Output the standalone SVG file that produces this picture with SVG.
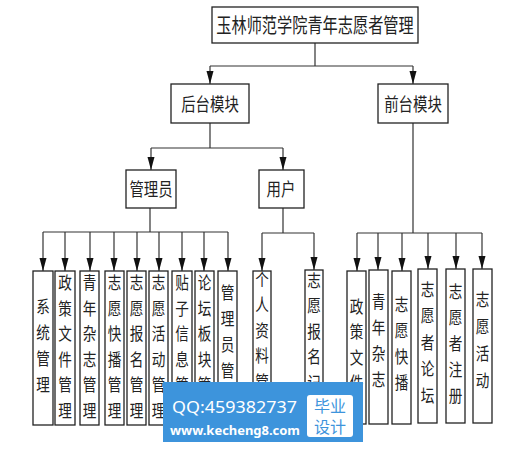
<svg xmlns="http://www.w3.org/2000/svg" width="527" height="449" viewBox="0 0 527 449">
<style>
.bg{fill:#fff}
.box{fill:#fff;stroke:#222;stroke-width:1.3}
.ln{fill:none;stroke:#333;stroke-width:1.2}
.t{font-family:"Noto Sans CJK SC","Noto Sans",sans-serif;fill:#222;text-anchor:middle}
.t17{font-size:17px}
.t18{font-size:18px}
.t20{font-size:20px}
.wm{fill:#3d94dc}
.wt{font-family:"Noto Sans","Noto Sans CJK SC",sans-serif;fill:#fff}
.wb{font-family:"Noto Sans CJK SC",sans-serif;fill:#3d94dc;font-size:16px;text-anchor:middle}
</style>
<defs>
<marker id="arr" markerUnits="userSpaceOnUse" markerWidth="13" markerHeight="8" viewBox="0 -4 13 8" refX="13" refY="0" orient="auto">
<path d="M0,-3.5 L13,0 L0,3.5 z" fill="#111"/>
</marker>
</defs>
<rect class="bg" x="0" y="0" width="527" height="449"/>

<g id="connectors">
<path class="ln" d="M315,43 V66 M210,66 H413"/>
<path class="ln" d="M210,66 V84" marker-end="url(#arr)"/>
<path class="ln" d="M413,66 V84" marker-end="url(#arr)"/>
<path class="ln" d="M210,123 V148 M151,148 H283"/>
<path class="ln" d="M151,148 V170" marker-end="url(#arr)"/>
<path class="ln" d="M283,148 V170" marker-end="url(#arr)"/>
<path class="ln" d="M150,208 V232 M43,232 H228"/>
<path class="ln" d="M43,232 V271" marker-end="url(#arr)"/>
<path class="ln" d="M65,232 V271" marker-end="url(#arr)"/>
<path class="ln" d="M90,232 V271" marker-end="url(#arr)"/>
<path class="ln" d="M114,232 V271" marker-end="url(#arr)"/>
<path class="ln" d="M137,232 V271" marker-end="url(#arr)"/>
<path class="ln" d="M159,232 V271" marker-end="url(#arr)"/>
<path class="ln" d="M182,232 V271" marker-end="url(#arr)"/>
<path class="ln" d="M204,232 V271" marker-end="url(#arr)"/>
<path class="ln" d="M228,232 V271" marker-end="url(#arr)"/>
<path class="ln" d="M283,208 V233 M262,233 H314"/>
<path class="ln" d="M262,233 V271" marker-end="url(#arr)"/>
<path class="ln" d="M314,233 V270" marker-end="url(#arr)"/>
<path class="ln" d="M413,123 V233 M357,233 H482"/>
<path class="ln" d="M357,233 V271" marker-end="url(#arr)"/>
<path class="ln" d="M378,233 V270" marker-end="url(#arr)"/>
<path class="ln" d="M402,233 V271" marker-end="url(#arr)"/>
<path class="ln" d="M428,233 V269" marker-end="url(#arr)"/>
<path class="ln" d="M456,233 V269" marker-end="url(#arr)"/>
<path class="ln" d="M482,233 V269" marker-end="url(#arr)"/>
</g>

<g id="root">
<rect class="box" x="212" y="7" width="206" height="36"/>
<g transform="translate(315,0) scale(0.76,1)"><text class="t t20" x="0" y="33">玉林师范学院青年志愿者管理</text></g>
</g>
<g id="backend">
<rect class="box" x="171" y="84" width="78" height="39"/>
<g transform="translate(210,0) scale(0.8,1)"><text class="t t18" x="0" y="111">后台模块</text></g>
</g>
<g id="frontend">
<rect class="box" x="378" y="84" width="70" height="39"/>
<g transform="translate(413,0) scale(0.8,1)"><text class="t t18" x="0" y="111">前台模块</text></g>
</g>
<g id="admin">
<rect class="box" x="126" y="170" width="50" height="38"/>
<g transform="translate(151,0) scale(0.8,1)"><text class="t t18" x="0" y="196">管理员</text></g>
</g>
<g id="user">
<rect class="box" x="259" y="170" width="45" height="38"/>
<g transform="translate(281,0) scale(0.8,1)"><text class="t t18" x="0" y="196">用户</text></g>
</g>

<g id="b1"><rect class="box" x="33" y="271" width="20" height="154"/>
<g transform="translate(43,0) scale(0.8,1)"><text class="t t17"><tspan x="0" y="313">系</tspan><tspan x="0" dy="26">统</tspan><tspan x="0" dy="26">管</tspan><tspan x="0" dy="26">理</tspan></text></g></g>
<g id="b2"><rect class="box" x="55" y="271" width="20" height="154"/>
<g transform="translate(65,0) scale(0.8,1)"><text class="t t17"><tspan x="0" y="289.5">政</tspan><tspan x="0" dy="25.5">策</tspan><tspan x="0" dy="25.5">文</tspan><tspan x="0" dy="25.5">件</tspan><tspan x="0" dy="25.5">管</tspan><tspan x="0" dy="25.5">理</tspan></text></g></g>
<g id="b3"><rect class="box" x="80" y="271" width="19" height="154"/>
<g transform="translate(89.5,0) scale(0.8,1)"><text class="t t17"><tspan x="0" y="289.5">青</tspan><tspan x="0" dy="25.5">年</tspan><tspan x="0" dy="25.5">杂</tspan><tspan x="0" dy="25.5">志</tspan><tspan x="0" dy="25.5">管</tspan><tspan x="0" dy="25.5">理</tspan></text></g></g>
<g id="b4"><rect class="box" x="105" y="271" width="19" height="154"/>
<g transform="translate(114.5,0) scale(0.8,1)"><text class="t t17"><tspan x="0" y="289.5">志</tspan><tspan x="0" dy="25.5">愿</tspan><tspan x="0" dy="25.5">快</tspan><tspan x="0" dy="25.5">播</tspan><tspan x="0" dy="25.5">管</tspan><tspan x="0" dy="25.5">理</tspan></text></g></g>
<g id="b5"><rect class="box" x="127" y="271" width="19" height="154"/>
<g transform="translate(136.5,0) scale(0.8,1)"><text class="t t17"><tspan x="0" y="289.5">志</tspan><tspan x="0" dy="25.5">愿</tspan><tspan x="0" dy="25.5">报</tspan><tspan x="0" dy="25.5">名</tspan><tspan x="0" dy="25.5">管</tspan><tspan x="0" dy="25.5">理</tspan></text></g></g>
<g id="b6"><rect class="box" x="149" y="271" width="19" height="154"/>
<g transform="translate(158.5,0) scale(0.8,1)"><text class="t t17"><tspan x="0" y="289.5">志</tspan><tspan x="0" dy="25.5">愿</tspan><tspan x="0" dy="25.5">活</tspan><tspan x="0" dy="25.5">动</tspan><tspan x="0" dy="25.5">管</tspan><tspan x="0" dy="25.5">理</tspan></text></g></g>
<g id="b7"><rect class="box" x="172" y="271" width="20" height="154"/>
<g transform="translate(182,0) scale(0.8,1)"><text class="t t17"><tspan x="0" y="289.5">贴</tspan><tspan x="0" dy="25.5">子</tspan><tspan x="0" dy="25.5">信</tspan><tspan x="0" dy="25.5">息</tspan><tspan x="0" dy="25.5">管</tspan></text></g></g>
<g id="b8"><rect class="box" x="195" y="271" width="19" height="154"/>
<g transform="translate(204.5,0) scale(0.8,1)"><text class="t t17"><tspan x="0" y="289.5">论</tspan><tspan x="0" dy="25.5">坛</tspan><tspan x="0" dy="25.5">板</tspan><tspan x="0" dy="25.5">块</tspan><tspan x="0" dy="25.5">管</tspan></text></g></g>
<g id="b9"><rect class="box" x="218" y="271" width="19" height="154"/>
<g transform="translate(227.5,0) scale(0.8,1)"><text class="t t17"><tspan x="0" y="299">管</tspan><tspan x="0" dy="26">理</tspan><tspan x="0" dy="26">员</tspan><tspan x="0" dy="26">管</tspan></text></g></g>

<g id="u1"><rect class="box" x="253" y="271" width="18" height="154"/>
<g transform="translate(262,0) scale(0.8,1)"><text class="t t17"><tspan x="0" y="286">个</tspan><tspan x="0" dy="25.5">人</tspan><tspan x="0" dy="25.5">资</tspan><tspan x="0" dy="25.5">料</tspan><tspan x="0" dy="25.5">管</tspan></text></g></g>
<g id="u2"><rect class="box" x="305" y="270" width="18" height="155"/>
<g transform="translate(314,0) scale(0.8,1)"><text class="t t17"><tspan x="0" y="287">志</tspan><tspan x="0" dy="25.5">愿</tspan><tspan x="0" dy="25.5">报</tspan><tspan x="0" dy="25.5">名</tspan><tspan x="0" dy="25.5">记</tspan></text></g></g>

<g id="f1"><rect class="box" x="347" y="271" width="19" height="153"/>
<g transform="translate(356.5,0) scale(0.8,1)"><text class="t t17"><tspan x="0" y="313">政</tspan><tspan x="0" dy="25.5">策</tspan><tspan x="0" dy="25.5">文</tspan><tspan x="0" dy="25.5">件</tspan></text></g></g>
<g id="f2"><rect class="box" x="369" y="270" width="19" height="154"/>
<g transform="translate(378.5,0) scale(0.8,1)"><text class="t t17"><tspan x="0" y="308">青</tspan><tspan x="0" dy="26">年</tspan><tspan x="0" dy="26">杂</tspan><tspan x="0" dy="26">志</tspan></text></g></g>
<g id="f3"><rect class="box" x="392" y="271" width="19" height="153"/>
<g transform="translate(401.5,0) scale(0.8,1)"><text class="t t17"><tspan x="0" y="311">志</tspan><tspan x="0" dy="26">愿</tspan><tspan x="0" dy="26">快</tspan><tspan x="0" dy="26">播</tspan></text></g></g>
<g id="f4"><rect class="box" x="418" y="269" width="19" height="154"/>
<g transform="translate(427.5,0) scale(0.8,1)"><text class="t t17"><tspan x="0" y="296">志</tspan><tspan x="0" dy="26.5">愿</tspan><tspan x="0" dy="26.5">者</tspan><tspan x="0" dy="26.5">论</tspan><tspan x="0" dy="26.5">坛</tspan></text></g></g>
<g id="f5"><rect class="box" x="446" y="269" width="19" height="154"/>
<g transform="translate(455.5,0) scale(0.8,1)"><text class="t t17"><tspan x="0" y="298">志</tspan><tspan x="0" dy="26">愿</tspan><tspan x="0" dy="26">者</tspan><tspan x="0" dy="26">注</tspan><tspan x="0" dy="26">册</tspan></text></g></g>
<g id="f6"><rect class="box" x="473" y="269" width="19" height="154"/>
<g transform="translate(482.5,0) scale(0.8,1)"><text class="t t17"><tspan x="0" y="306">志</tspan><tspan x="0" dy="27">愿</tspan><tspan x="0" dy="27">活</tspan><tspan x="0" dy="27">动</tspan></text></g></g>

<g id="watermark">
<rect class="wm" x="163" y="382" width="200" height="60"/>
<rect x="307" y="395" width="46" height="42" rx="3" fill="#fff"/>
<text class="wt" x="172" y="413" font-size="17" textLength="125" lengthAdjust="spacingAndGlyphs">QQ:459382737</text>
<text class="wt" x="170" y="435" font-size="13" font-weight="bold" textLength="130" lengthAdjust="spacingAndGlyphs">www.kecheng8.com</text>
<text class="wb"><tspan x="330" y="412">毕业</tspan><tspan x="330" y="433">设计</tspan></text>
</g>
</svg>
